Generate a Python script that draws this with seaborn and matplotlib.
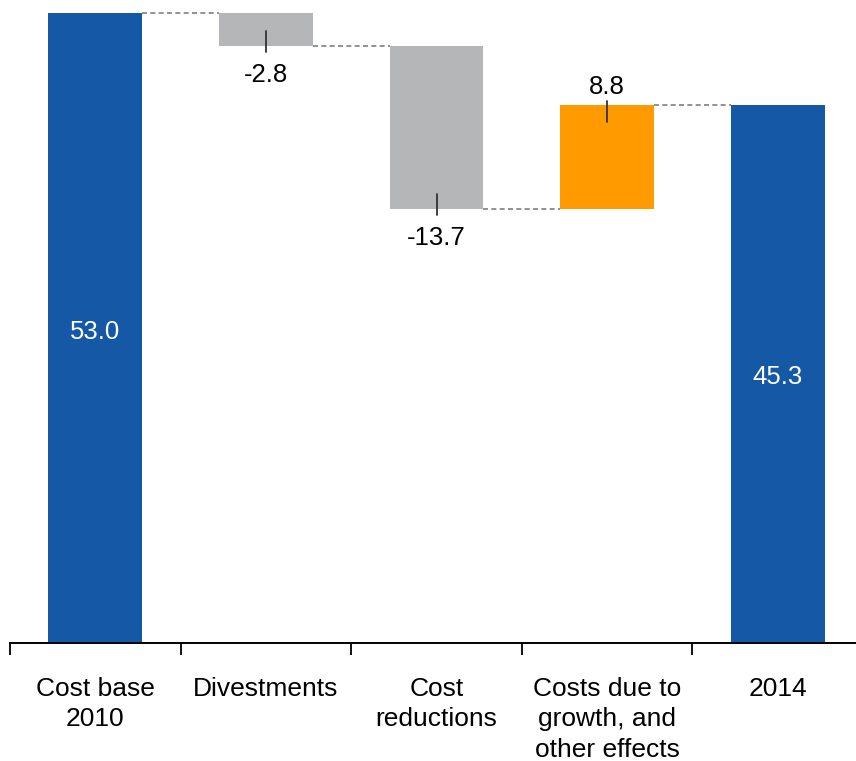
import matplotlib
matplotlib.use("Agg")
import matplotlib.pyplot as plt
import seaborn as sns
import numpy as np

categories = ["Cost base\n2010", "Divestments", "Cost\nreductions",
              "Costs due to\ngrowth, and\nother effects", "2014"]
values = [53.0, -2.8, -13.7, 8.8, 45.3]
is_total = [True, False, False, False, True]
labels = ["53.0", "-2.8", "-13.7", "8.8", "45.3"]

BLUE = "#1559A6"
GRAY = "#B5B6B8"
ORANGE = "#FF9A00"

# waterfall geometry
bottoms, heights, levels = [], [], []
run = 0.0
for v, t in zip(values, is_total):
    if t:
        bottoms.append(0.0)
        heights.append(v)
        run = v
    else:
        bottoms.append(run)
        heights.append(v)
        run = run + v
    levels.append(run)
colors = [BLUE if t else (ORANGE if v > 0 else GRAY) for v, t in zip(values, is_total)]

sns.set_theme(style="white")
plt.rcParams["font.family"] = ["Liberation Sans", "DejaVu Sans"]

W, H = 856, 761
fig = plt.figure(figsize=(W / 100, H / 100), dpi=100)
ymax = 54.0
ppu = 630.0 / 53.0  # pixels per unit
ax_h_px = ymax * ppu
ax = fig.add_axes([10 / W, 1 - 643 / H, 853 / W, ax_h_px / H])

bw = 0.55
sns.barplot(x=list(range(len(categories))), y=heights, bottom=bottoms,
            color=BLUE, width=bw, ax=ax, native_scale=True, linewidth=0,
            saturation=1)
for p, c in zip(ax.patches, colors):
    p.set_facecolor(c)
    p.set_edgecolor("none")

ax.set_xlim(-0.5, len(categories) - 0.5)
ax.set_ylim(0, ymax)

# connectors
for i in range(len(categories) - 1):
    lvl = levels[i]
    ax.plot([i + bw / 2, i + 1 - bw / 2], [lvl, lvl], ls=(0, (3, 2)),
            color="#7F7F7F", lw=1.2, zorder=3)

# labels
VFS = 18.5
for i, (v, t, lab) in enumerate(zip(values, is_total, labels)):
    if t:
        ax.text(i, v / 2 - 3.5 / ppu, lab, ha="center", va="center", color="white", fontsize=VFS)
    else:
        end = levels[i]
        if v < 0:
            ax.plot([i, i], [end + 15 / ppu, end - 5.5 / ppu], color="#333333", lw=1.3, zorder=4)
            ax.text(i, end - 29 / ppu, lab, ha="center", va="center", color="black", fontsize=VFS)
        else:
            ax.plot([i, i], [end - 17 / ppu, end + 4 / ppu], color="#333333", lw=1.3, zorder=4)
            ax.text(i, end + 18 / ppu, lab, ha="center", va="center", color="black", fontsize=VFS)

# axes styling
for s in ["top", "right", "left"]:
    ax.spines[s].set_visible(False)
ax.spines["bottom"].set_linewidth(1.4)
ax.spines["bottom"].set_color("black")
ax.set_yticks([])
ax.set_xticks(range(len(categories)))
ax.set_xticklabels(categories, fontsize=19, color="black", linespacing=1.33)
ax.tick_params(axis="x", which="major", length=0, pad=24.5, bottom=True)
ax.set_xticks(np.arange(-0.5, len(categories)), minor=True)
ax.tick_params(axis="x", which="minor", length=8.5, width=1.3, color="black",
               direction="out", bottom=True)
ax.set_xlabel("")
ax.set_ylabel("")
ax.grid(False)

fig.savefig("out.png", dpi=100)
